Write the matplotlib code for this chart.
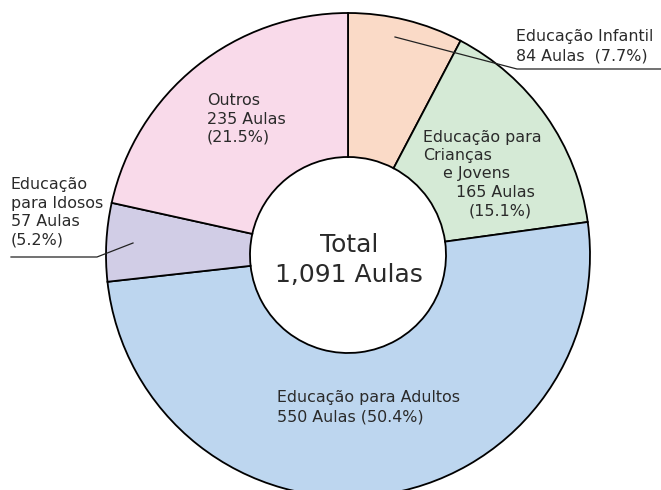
import matplotlib.pyplot as plt

plt.rcParams['font.family'] = ['DejaVu Sans']

# data
categorias = ['Educação Infantil', 'Educação para Crianças e Jovens',
              'Educação para Adultos', 'Educação para Idosos', 'Outros']
aulas = [84, 165, 550, 57, 235]
cores = ['#FADAC7', '#D5EAD6', '#BDD6EF', '#D1CDE6', '#F9DAEA']

total = sum(aulas)
pct = [100 * a / total for a in aulas]

H = 490  # figure height in px, texts are placed in pixel coords (y from top)

fig = plt.figure(figsize=(6.61, 4.9), dpi=100)
ax = fig.add_axes([0, 0, 1, 1])

ax.pie(aulas, colors=cores, startangle=90, counterclock=False,
       radius=242, center=(348, H - 255),
       wedgeprops=dict(width=144, edgecolor='black', linewidth=1.3))
ax.set_xlim(0, 661)
ax.set_ylim(0, H)
ax.axis('off')

tc = '#2a2a2a'
fs = 11.4


def txt(x, y, s, size=fs, ha='left'):
    ax.text(x, H - y, s, fontsize=size, color=tc, ha=ha, va='baseline')


def line(xs, ys):
    ax.plot(xs, [H - y for y in ys], color='#222222', linewidth=0.9)


# Educação Infantil
txt(516, 41, categorias[0])
txt(516, 61, f'{aulas[0]} Aulas  ({pct[0]:.1f}%)')
line([395, 517, 661], [37, 69, 69])

# Crianças e Jovens
txt(423, 142, 'Educação para')
txt(423, 160, 'Crianças')
txt(443, 178, 'e Jovens')
txt(456, 197, f'{aulas[1]} Aulas')
txt(469, 216, f'({pct[1]:.1f}%)')

# Adultos
txt(277, 402, categorias[2])
txt(277, 421, f'{aulas[2]} Aulas ({pct[2]:.1f}%)')

# Idosos
txt(11, 189, 'Educação')
txt(11, 208, 'para Idosos')
txt(11, 226, f'{aulas[3]} Aulas')
txt(11, 245, f'({pct[3]:.1f}%)')
line([133, 97, 11], [243, 257, 257])

# Outros
txt(207, 105, categorias[4])
txt(207, 124, f'{aulas[4]} Aulas')
txt(207, 142, f'({pct[4]:.1f}%)')

# centro
txt(349, 252, 'Total', size=18, ha='center')
txt(349, 282, f'{total:,} Aulas', size=18, ha='center')

fig.savefig('out.png', dpi=100)
